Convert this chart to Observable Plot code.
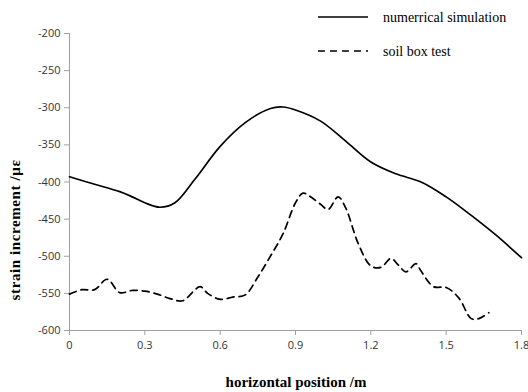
<!DOCTYPE html>
<html>
<head>
<meta charset="utf-8">
<script src="https://cdn.jsdelivr.net/npm/d3@7"></script>
<script src="https://cdn.jsdelivr.net/npm/@observablehq/plot@0.6"></script>
<style>
  html, body { margin: 0; padding: 0; background: #fff; }
  #chart { width: 528px; height: 392px; position: relative; }
</style>
</head>
<body>
<div id="chart"></div>
<script>
const seriesNames = ["numerrical simulation", "soil box test"];

const simX = [0, 0.1, 0.2, 0.25, 0.3, 0.36, 0.42, 0.5, 0.6, 0.7, 0.8, 0.85, 0.9, 1.0, 1.1, 1.2, 1.3, 1.4, 1.5, 1.6, 1.7, 1.8];
const simY = [-393, -403, -413, -420, -428, -434, -428, -396, -352, -320, -301, -299, -303, -318, -345, -373, -389, -400, -420, -445, -472, -502];

const testX = [0, 0.05, 0.1, 0.15, 0.2, 0.25, 0.3, 0.35, 0.4, 0.45, 0.52, 0.55, 0.6, 0.65, 0.7, 0.75, 0.8, 0.85, 0.9, 0.93, 0.96, 1.0, 1.03, 1.07, 1.1, 1.15, 1.2, 1.24, 1.28, 1.31, 1.34, 1.38, 1.4, 1.45, 1.5, 1.55, 1.6, 1.63, 1.67];
const testY = [-551, -545, -545, -531, -549, -546, -547, -551, -557, -560, -541, -550, -558, -555, -552, -528, -500, -470, -428, -415, -420, -430, -437, -420, -435, -483, -513, -515, -503, -512, -521, -510, -520, -541, -542, -556, -584, -584, -576];

const xTicks = [0, 0.3, 0.6, 0.9, 1.2, 1.5, 1.8];
const yTicks = [-200, -250, -300, -350, -400, -450, -500, -550, -600];

const simData = simX.map((x, i) => ({x, y: simY[i]}));
const testData = testX.map((x, i) => ({x, y: testY[i]}));

const chart = Plot.plot({
  width: 528,
  height: 392,
  marginTop: 33,
  marginBottom: 62,
  marginLeft: 69,
  marginRight: 7,
  style: {fontFamily: "'Open Sans', 'Noto Sans', sans-serif", fontSize: "11px", color: "#333", background: "#fff"},
  x: {domain: [0, 1.8], ticks: xTicks, tickFormat: d => String(d), label: null},
  y: {domain: [-600, -200], ticks: yTicks, tickFormat: d => String(d), label: null},
  marks: [
    Plot.ruleY([-600], {stroke: "#a0a0a0"}),
    Plot.ruleX([0], {stroke: "#a0a0a0"}),
    Plot.axisX({ticks: xTicks, tickFormat: d => String(d), tickSize: 5, stroke: "#a0a0a0", tickPadding: 6, fontSize: 11, fill: "#333"}),
    Plot.axisY({ticks: yTicks, tickFormat: d => String(d), tickSize: 5, stroke: "#a0a0a0", tickPadding: 4, fontSize: 11, fill: "#333"}),
    Plot.line(simData, {x: "x", y: "y", curve: "catmull-rom", stroke: "#000", strokeWidth: 1.7}),
    Plot.line(testData, {x: "x", y: "y", curve: "catmull-rom", stroke: "#000", strokeWidth: 1.7, strokeDasharray: "7,5"})
  ]
});

const svg = d3.select(chart);
const serif = "'Liberation Serif', 'DejaVu Serif', serif";
// legend
const legend = svg.append("g").attr("text-anchor", "start");
legend.append("line").attr("x1", 318).attr("x2", 368).attr("y1", 17).attr("y2", 17).attr("stroke", "#000").attr("stroke-width", 1.7);
legend.append("text").attr("x", 383).attr("y", 21.5).attr("text-anchor", "start").attr("font-family", serif).attr("font-size", 14).attr("fill", "#000").text(seriesNames[0]);
legend.append("line").attr("x1", 318).attr("x2", 368).attr("y1", 51).attr("y2", 51).attr("stroke", "#000").attr("stroke-width", 1.7).attr("stroke-dasharray", "7,5");
legend.append("text").attr("x", 383).attr("y", 55.5).attr("text-anchor", "start").attr("font-family", serif).attr("font-size", 14).attr("fill", "#000").text(seriesNames[1]);
// axis titles
svg.append("text").attr("x", 296).attr("y", 387).attr("text-anchor", "middle").attr("font-family", serif).attr("font-weight", "bold").attr("font-size", 15).attr("fill", "#000").text("horizontal position /m");
svg.append("text").attr("transform", "translate(20,230) rotate(-90)").attr("text-anchor", "middle").attr("font-family", serif).attr("font-weight", "bold").attr("font-size", 15).attr("letter-spacing", "0.6px").attr("fill", "#000").text("strain increment /με");

document.getElementById("chart").appendChild(chart);
</script>
</body>
</html>
